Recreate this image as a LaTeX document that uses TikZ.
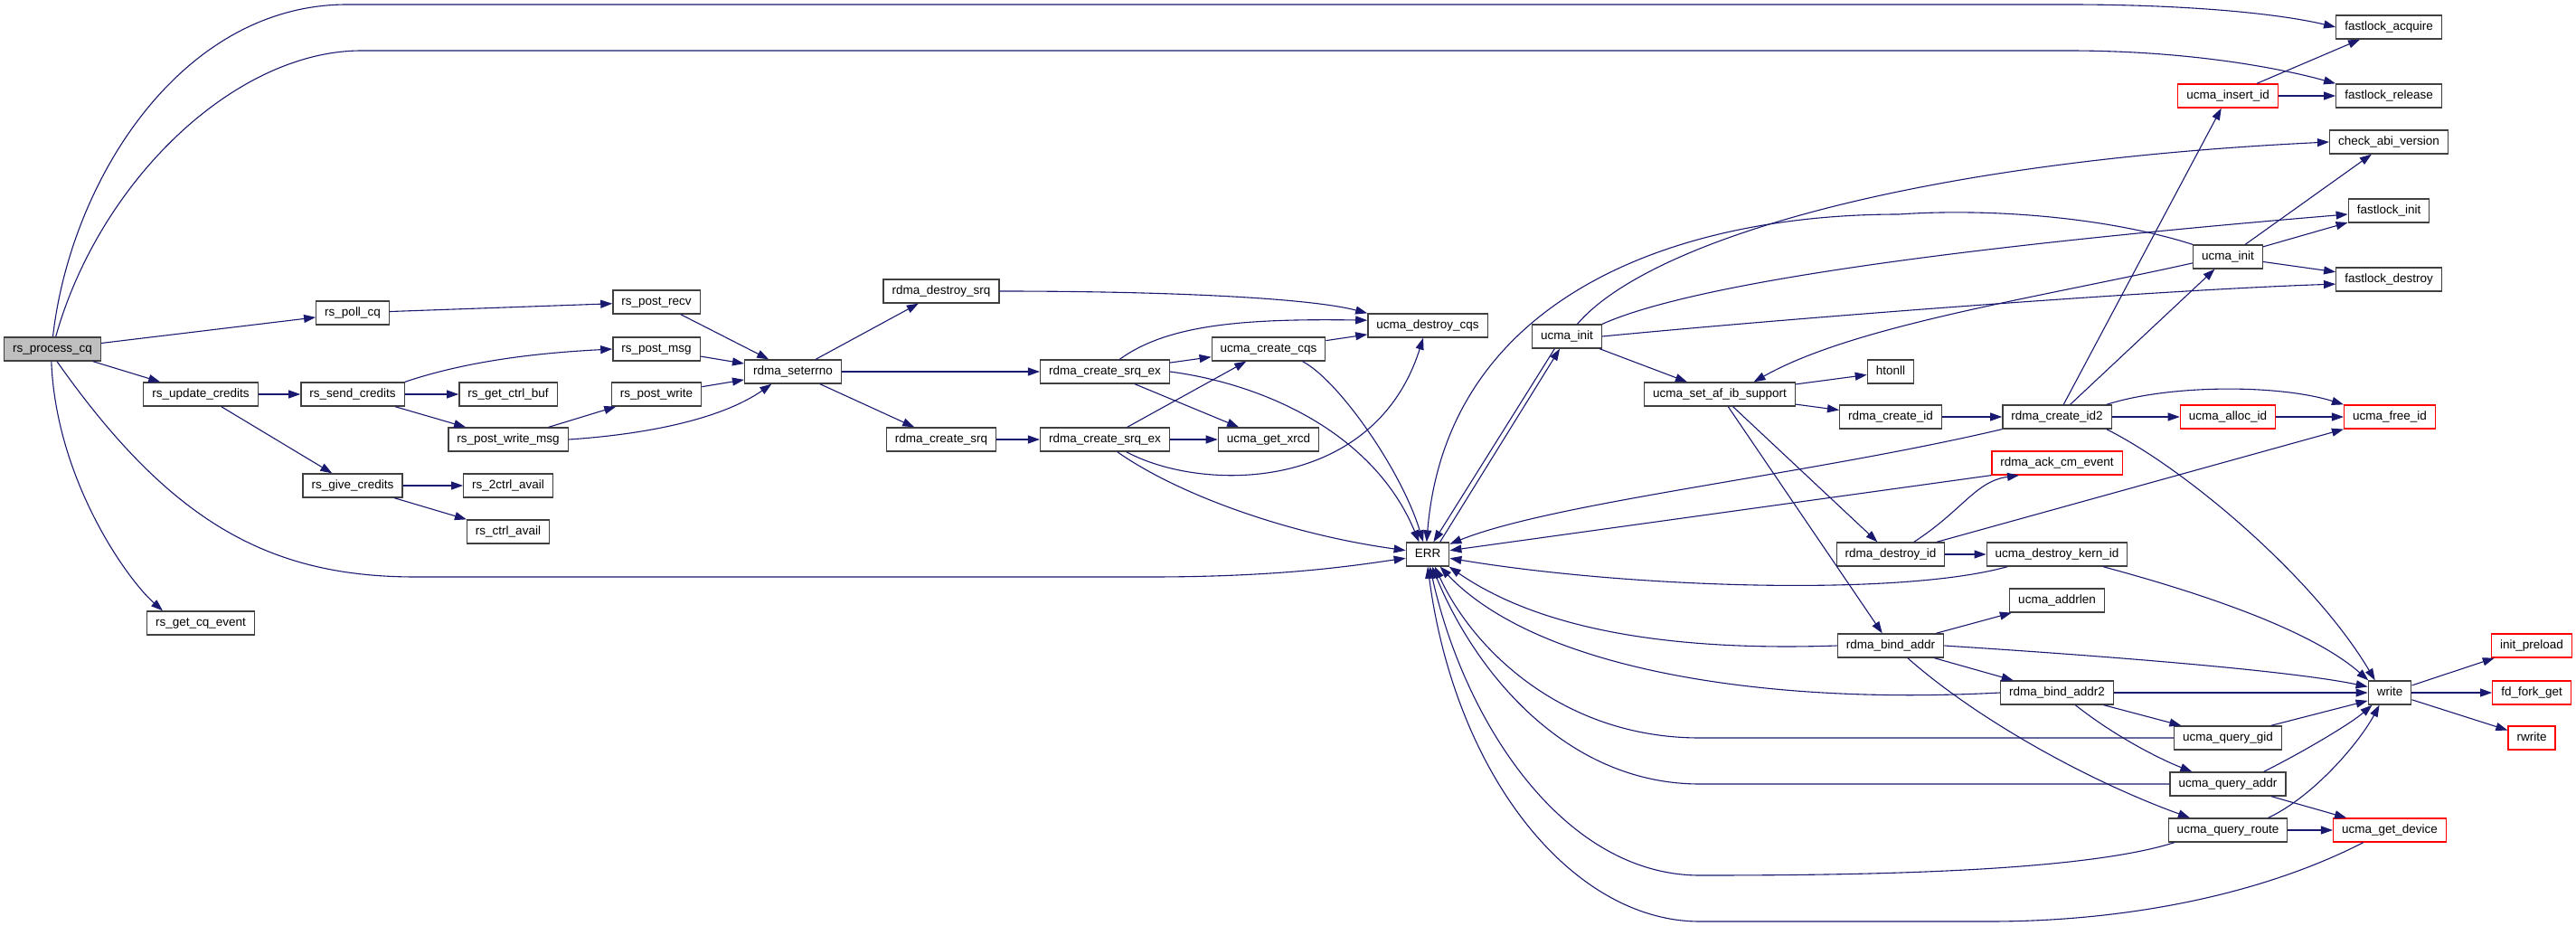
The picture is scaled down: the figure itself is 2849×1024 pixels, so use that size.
\documentclass[tikz,border=0pt]{standalone}
\usepackage{fontspec}
\setmainfont{Liberation Sans}
\usetikzlibrary{arrows.meta}
\definecolor{edgeblue}{HTML}{191970}

\begin{document}
\begin{tikzpicture}[x=1pt, y=-1pt,
    fn/.style={draw=black!75, line width=1.3pt, fill=white, inner xsep=9.5pt, inner ysep=0pt,
      minimum height=26pt, text height=10pt, text depth=3pt, font=\fontsize{13.5}{15}\selectfont},
    fnred/.style={fn, draw=red},
    call/.style={draw=edgeblue, line width=1.1pt, -{Triangle[length=13pt,width=9pt]}}]

    % Sfondo
    \fill[white] (0,0) rectangle (2849,1024);

    % rs_* functions
    \node[fn, fill=black!25] (processcq) at (58,386) {rs\_process\_cq};
    \node[fn] (pollcq) at (390,346) {rs\_poll\_cq};
    \node[fn] (updatecredits) at (222,436) {rs\_update\_credits};
    \node[fn] (getcqevent) at (222,689) {rs\_get\_cq\_event};
    \node[fn] (sendcredits) at (390,436) {rs\_send\_credits};
    \node[fn] (givecredits) at (390,537) {rs\_give\_credits};
    \node[fn] (getctrlbuf) at (562,436) {rs\_get\_ctrl\_buf};
    \node[fn] (postwritemsg) at (562,486) {rs\_post\_write\_msg};
    \node[fn] (twoctrlavail) at (562,537) {rs\_2ctrl\_avail};
    \node[fn] (ctrlavail) at (562,588) {rs\_ctrl\_avail};
    \node[fn] (postrecv) at (726,334) {rs\_post\_recv};
    \node[fn] (postmsg) at (726,386) {rs\_post\_msg};
    \node[fn] (postwrite) at (726,436) {rs\_post\_write};

    % rdma_* / ucma_* functions
    \node[fn] (seterrno) at (877,411) {rdma\_seterrno};
    \node[fn] (destroysrq) at (1041,322) {rdma\_destroy\_srq};
    \node[fn] (createsrq) at (1041,486) {rdma\_create\_srq};
    \node[fn] (srqexa) at (1222,411) {rdma\_create\_srq\_ex};
    \node[fn] (srqexb) at (1222,486) {rdma\_create\_srq\_ex};
    \node[fn] (createcqs) at (1403,386) {ucma\_create\_cqs};
    \node[fn] (getxrcd) at (1403,486) {ucma\_get\_xrcd};
    \node[fn] (destroycqs) at (1579,360) {ucma\_destroy\_cqs};
    \node[fn] (err) at (1579,613) {ERR};
    \node[fn] (ucmainita) at (1733,372) {ucma\_init};
    \node[fn] (setafib) at (1902,436) {ucma\_set\_af\_ib\_support};
    \node[fn] (htonll) at (2091,411) {htonll};
    \node[fn] (createid) at (2091,461) {rdma\_create\_id};
    \node[fn] (destroyid) at (2091,613) {rdma\_destroy\_id};
    \node[fn] (bindaddr) at (2091,714) {rdma\_bind\_addr};
    \node[fn] (createidtwo) at (2275,461) {rdma\_create\_id2};
    \node[fnred] (ackcmevent) at (2275,512) {rdma\_ack\_cm\_event};
    \node[fn] (destroykernid) at (2275,613) {ucma\_destroy\_kern\_id};
    \node[fn] (addrlen) at (2275,664) {ucma\_addrlen};
    \node[fn] (bindaddrtwo) at (2275,766) {rdma\_bind\_addr2};
    \node[fnred] (insertid) at (2464,106) {ucma\_insert\_id};
    \node[fn] (ucmainitb) at (2464,284) {ucma\_init};
    \node[fnred] (allocid) at (2464,461) {ucma\_alloc\_id};
    \node[fn] (querygid) at (2464,816) {ucma\_query\_gid};
    \node[fn] (queryaddr) at (2464,867) {ucma\_query\_addr};
    \node[fn] (queryroute) at (2464,918) {ucma\_query\_route};
    \node[fn] (acquire) at (2642,30) {fastlock\_acquire};
    \node[fn] (release) at (2642,106) {fastlock\_release};
    \node[fn] (checkabi) at (2642,157) {check\_abi\_version};
    \node[fn] (lockinit) at (2642,233) {fastlock\_init};
    \node[fn] (lockdestroy) at (2642,309) {fastlock\_destroy};
    \node[fnred] (freeid) at (2643,461) {ucma\_free\_id};
    \node[fn] (write) at (2643,766) {write};
    \node[fnred] (getdevice) at (2643,918) {ucma\_get\_device};
    \node[fnred] (initpreload) at (2800,714) {init\_preload};
    \node[fnred] (fdforkget) at (2800,766) {fd\_fork\_get};
    \node[fnred] (rwrite) at (2800,816) {rwrite};

    % Chiamate da rs_process_cq
    \draw[call] (processcq.88) .. controls (78,200) and (200,5) .. (384,5) -- (2287,5)
        .. controls (2420,5) and (2520,15) .. (acquire.west);
    \draw[call] (processcq.75) .. controls (110,200) and (260,56) .. (400,56) -- (2287,56)
        .. controls (2420,56) and (2520,75) .. (release.north west);
    \draw[call] (processcq) -- (pollcq);
    \draw[call] (processcq) -- (updatecredits);
    \draw[call] (processcq.-70) .. controls (190,580) and (300,638) .. (460,638) -- (1272,638)
        .. controls (1420,638) and (1500,625) .. (err.-170);
    \draw[call] (processcq.-95) .. controls (62,530) and (140,640) .. (getcqevent.162);

    % rs_* interni
    \draw[call] (updatecredits) -- (sendcredits);
    \draw[call] (updatecredits) -- (givecredits);
    \draw[call] (sendcredits.north east) .. controls (520,398) and (600,390) .. (postmsg.west);
    \draw[call] (sendcredits) -- (getctrlbuf);
    \draw[call] (sendcredits) -- (postwritemsg);
    \draw[call] (givecredits) -- (twoctrlavail);
    \draw[call] (givecredits) -- (ctrlavail);
    \draw[call] (postwritemsg) -- (postwrite);
    \draw[call] (postwritemsg.east) .. controls (720,480) and (800,462) .. (seterrno.-150);
    \draw[call] (pollcq) -- (postrecv);
    \draw[call] (postrecv) -- (seterrno);
    \draw[call] (postmsg) -- (seterrno);
    \draw[call] (postwrite) -- (seterrno);

    % rdma_seterrno e srq
    \draw[call] (seterrno) -- (destroysrq);
    \draw[call] (seterrno) -- (srqexa);
    \draw[call] (seterrno) -- (createsrq);
    \draw[call] (createsrq) -- (srqexb);
    \draw[call] (destroysrq.east) .. controls (1300,322) and (1450,330) .. (destroycqs.north west);
    \draw[call] (srqexa.40) .. controls (1290,360) and (1370,352) .. (destroycqs.175);
    \draw[call] (srqexa) -- (createcqs);
    \draw[call] (srqexa) -- (getxrcd);
    \draw[call] (srqexa.east) .. controls (1400,425) and (1520,480) .. (err.125);
    \draw[call] (srqexb) -- (createcqs);
    \draw[call] (srqexb) -- (getxrcd);
    \draw[call] (srqexb.-30) .. controls (1330,545) and (1520,545) .. (destroycqs.-110);
    \draw[call] (srqexb.-45) .. controls (1300,545) and (1420,590) .. (err.170);
    \draw[call] (createcqs) -- (destroycqs);
    \draw[call] (createcqs.-20) .. controls (1480,420) and (1550,520) .. (err.110);

    % ucma_init (sinistra)
    \draw[call] (ucmainita.-135) -- (err.65);
    \draw[call] (err.45) -- (ucmainita.-120);
    \draw[call] (ucmainita.50) .. controls (1820,270) and (2100,180) .. (checkabi.west);
    \draw[call] (ucmainita.north east) .. controls (1880,310) and (2200,270) .. (lockinit.185);
    \draw[call] (ucmainita.east) .. controls (2000,350) and (2400,320) .. (lockdestroy.185);
    \draw[call] (ucmainita) -- (setafib);

    % ucma_init (destra)
    \draw[call] (ucmainitb.north west) .. controls (2330,240) and (2200,230) .. (2100,237)
        .. controls (1850,237) and (1600,330) .. (err.95);
    \draw[call] (ucmainitb.190) .. controls (2250,330) and (2050,360) .. (setafib.20);
    \draw[call] (ucmainitb) -- (checkabi);
    \draw[call] (ucmainitb) -- (lockinit);
    \draw[call] (ucmainitb) -- (lockdestroy);

    % ucma_set_af_ib_support
    \draw[call] (setafib) -- (htonll);
    \draw[call] (setafib) -- (createid);
    \draw[call] (setafib) -- (destroyid);
    \draw[call] (setafib) -- (bindaddr);

    % rdma_create_id2
    \draw[call] (createid) -- (createidtwo);
    \draw[call] (createidtwo) -- (insertid);
    \draw[call] (createidtwo) -- (ucmainitb);
    \draw[call] (createidtwo.14) .. controls (2400,425) and (2520,425) .. (freeid.north west);
    \draw[call] (createidtwo) -- (allocid);
    \draw[call] (allocid) -- (freeid);
    \draw[call] (createidtwo.-14) .. controls (2420,520) and (2560,640) .. (write.140);
    \draw[call] (createidtwo.south west) .. controls (2000,525) and (1720,555) .. (err.25);
    \draw[call] (insertid) -- (acquire);
    \draw[call] (insertid) -- (release);

    % rdma_destroy_id
    \draw[call] (destroyid) -- (destroykernid);
    \draw[call] (destroyid.28) .. controls (2170,565) and (2185,532) .. (ackcmevent.-162);
    \draw[call] (destroyid.15) -- (freeid.south west);
    \draw[call] (ackcmevent.south west) -- (err.10);
    \draw[call] (destroykernid.-166) .. controls (2100,660) and (1800,650) .. (err.-10);
    \draw[call] (destroykernid.-15) .. controls (2450,660) and (2560,700) .. (write.150);

    % rdma_bind_addr
    \draw[call] (bindaddr) -- (addrlen);
    \draw[call] (bindaddr.west) .. controls (1800,722) and (1680,680) .. (err.-30);
    \draw[call] (bindaddr.east) .. controls (2400,730) and (2550,745) .. (write.165);
    \draw[call] (bindaddr) -- (bindaddrtwo);
    \draw[call] (bindaddr.-36) .. controls (2180,790) and (2300,860) .. (queryroute.162);
    \draw[call] (bindaddrtwo.west) .. controls (1950,780) and (1700,740) .. (err.-45);
    \draw[call] (bindaddrtwo) -- (write);
    \draw[call] (bindaddrtwo) -- (querygid);
    \draw[call] (bindaddrtwo.-34) .. controls (2340,815) and (2390,840) .. (queryaddr.161);

    % ucma_query_*
    \draw[call] (querygid.west) -- (1880,816) .. controls (1730,816) and (1630,720) .. (err.-60);
    \draw[call] (querygid.16) -- (write.-160);
    \draw[call] (queryaddr.west) -- (1880,867) .. controls (1730,867) and (1630,740) .. (err.-70);
    \draw[call] (queryaddr.19) .. controls (2550,830) and (2600,800) .. (write.-145);
    \draw[call] (queryaddr) -- (getdevice);
    \draw[call] (queryroute.-167) .. controls (2300,965) and (2050,968) .. (1880,968)
        .. controls (1730,968) and (1620,800) .. (err.-80);
    \draw[call] (queryroute) -- (getdevice);
    \draw[call] (queryroute.17) .. controls (2560,880) and (2610,820) .. (write.-130);
    \draw[call] (getdevice.-155) .. controls (2500,990) and (2350,1019) .. (2200,1019) -- (1880,1019)
        .. controls (1740,1019) and (1610,860) .. (err.-90);

    % write
    \draw[call] (write) -- (initpreload);
    \draw[call] (write) -- (fdforkget);
    \draw[call] (write) -- (rwrite);
\end{tikzpicture}
\end{document}
